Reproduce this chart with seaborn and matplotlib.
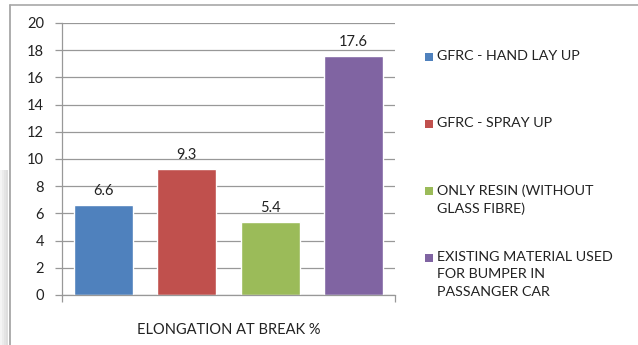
import matplotlib
matplotlib.use("Agg")
import matplotlib.pyplot as plt
from matplotlib.patches import Rectangle
import seaborn as sns
import pandas as pd

# Elongation at break for each material
materials = [
    "GFRC - HAND LAY UP",
    "GFRC - SPRAY UP",
    "ONLY RESIN (WITHOUT\nGLASS FIBRE)",
    "EXISTING MATERIAL USED\nFOR BUMPER IN\nPASSANGER CAR",
]
elongation = [6.6, 9.3, 5.4, 17.6]
colors = ["#4F81BD", "#C0504D", "#9BBB59", "#8064A2"]
y_ticks = [0, 2, 4, 6, 8, 10, 12, 14, 16, 18, 20]
category_label = "ELONGATION AT BREAK %"

sns.set_theme(style="white")
plt.rcParams["font.family"] = ["Lato", "DejaVu Sans"]

df = pd.DataFrame({"material": materials, "value": elongation})

fig = plt.figure(figsize=(6.38, 3.45), dpi=100)
ax = fig.add_axes([62 / 638, 50 / 345, 333 / 638, 272 / 345])

sns.barplot(data=df, x="material", y="value", hue="material",
            palette=colors, hue_order=materials, order=materials,
            width=0.71, legend=False, ax=ax, saturation=1)

for cont in ax.containers:
    ax.bar_label(cont, fmt="%.1f", padding=5, fontsize=10.5, color="#222222")

ax.set_xlim(-0.5, 3.5)
ax.set_ylim(0, 20)
ax.set_yticks(y_ticks)
ax.yaxis.grid(True, color="#989898", linewidth=0.9)
ax.set_axisbelow(True)
ax.set_xticks([-0.5, 3.5])
ax.set_xticklabels([])
ax.tick_params(axis="x", bottom=True, length=5, width=0.9, color="#989898")
ax.tick_params(axis="y", left=True, length=5, width=0.9, color="#989898",
               labelsize=10.5, pad=8, labelcolor="#222222")
ax.set_xlabel(category_label, fontsize=10.5, labelpad=12, color="#222222")
ax.set_ylabel("")
for side in ["top", "right"]:
    ax.spines[side].set_visible(False)
for side in ["left", "bottom"]:
    ax.spines[side].set_color("#989898")
    ax.spines[side].set_linewidth(0.9)

# Legend drawn as swatch + label pairs, one block per material
W, H = 638, 345
first_line_y = [57, 124, 191, 258]
for label, color, yy in zip(materials, colors, first_line_y):
    fig.add_artist(Rectangle((425 / W, 1 - (yy + 4) / H), 8 / W, 8 / H,
                             transform=fig.transFigure, facecolor=color,
                             edgecolor="none"))
    fig.text(437 / W, 1 - (yy - 7) / H, label, fontsize=10.3, va="top",
             ha="left", color="#222222", linespacing=1.55)

# Chart frame with a faint shadow strip on the left edge
for i, shade in enumerate(["#f4f4f4", "#ececec", "#e4e4e4", "#dedede"]):
    fig.add_artist(Rectangle((i * 2 / W, 0), 2 / W, 1 - 170 / H,
                             transform=fig.transFigure, facecolor=shade,
                             edgecolor="none"))
fig.add_artist(plt.Line2D([10 / W, 10 / W], [0, 1 - 5 / H],
                          transform=fig.transFigure, color="#a0a0a0", lw=1.2))
fig.add_artist(plt.Line2D([10 / W, 1], [1 - 5 / H, 1 - 5 / H],
                          transform=fig.transFigure, color="#a8a8a8", lw=1.2))

fig.savefig("out.png", dpi=100)
